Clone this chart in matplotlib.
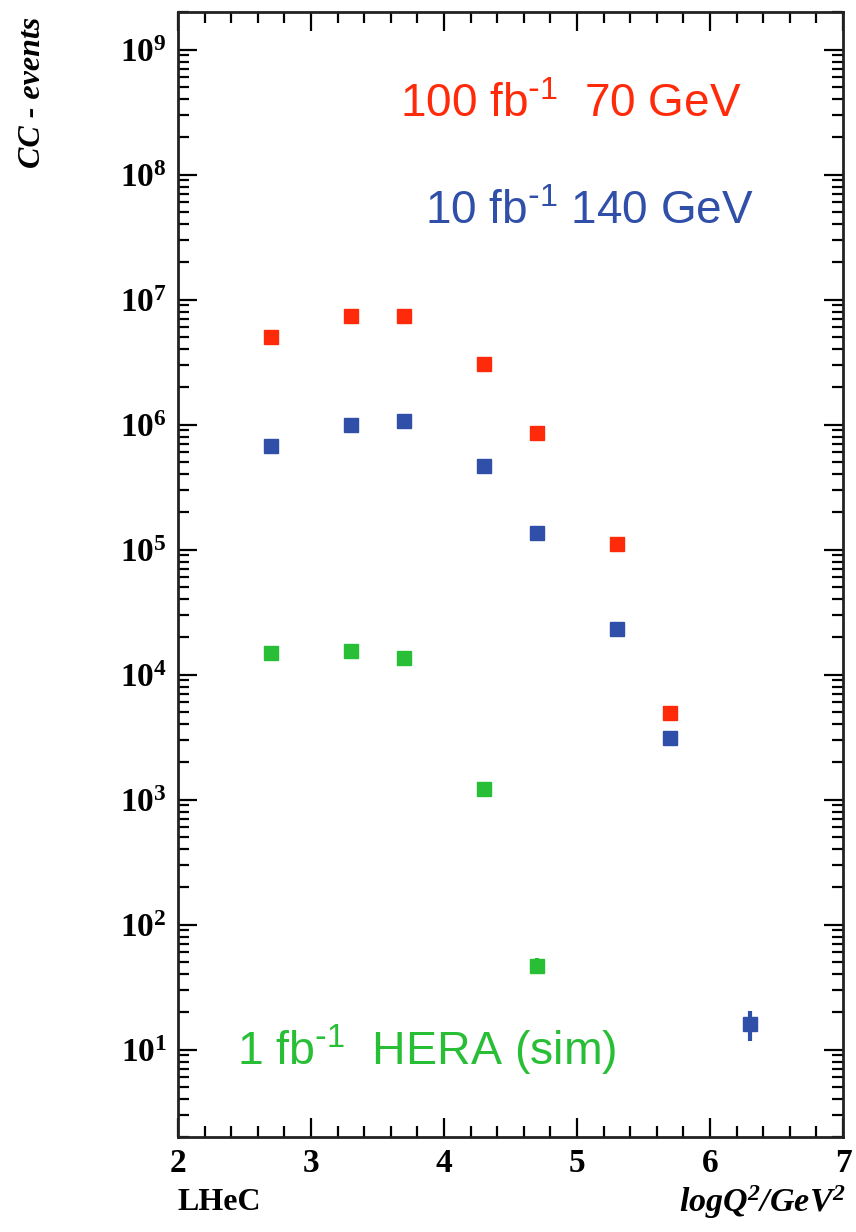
import math
import matplotlib
matplotlib.use("Agg")
import matplotlib.pyplot as plt
from matplotlib.ticker import FixedLocator, LogLocator, FuncFormatter, MultipleLocator

plt.rcParams["mathtext.default"] = "regular"

# log Q^2 bin centres and CC event counts
x_lhec = [2.7, 3.3, 3.7, 4.3, 4.7, 5.3, 5.7]
red_70 = [5.0e6, 7.4e6, 7.4e6, 3.05e6, 8.5e5, 1.1e5, 4.9e3]
x_blue = [2.7, 3.3, 3.7, 4.3, 4.7, 5.3, 5.7, 6.3]
blue_140 = [6.7e5, 1.0e6, 1.06e6, 4.7e5, 1.37e5, 2.33e4, 3.1e3, 16]
blue_err = [0, 0, 0, 0, 0, 0, 0, 4.3]
x_hera = [2.7, 3.3, 3.7, 4.3, 4.7]
green_hera = [1.5e4, 1.55e4, 1.36e4, 1.21e3, 47]
green_err = [0, 0, 0, 0, 7]

RED = "#ff2a0a"
BLUE = "#2f4fa8"
GREEN = "#28bf37"

fig = plt.figure(figsize=(8.56, 12.32), dpi=100)
ax = fig.add_axes([178 / 856, 1 - 1137 / 1232, (843 - 178) / 856, (1137 - 12) / 1232])

ax.errorbar(x_lhec, red_70, fmt="s", color=RED, ms=9.5, mec=RED)
ax.errorbar(x_blue, blue_140, yerr=blue_err, fmt="s", color=BLUE, ms=9.5,
            mec=BLUE, elinewidth=3, capsize=0)
ax.errorbar(x_hera, green_hera, yerr=green_err, fmt="s", color=GREEN, ms=9.5,
            mec=GREEN, elinewidth=3, capsize=0)

ax.set_yscale("log")
ax.set_xlim(2, 7)
ax.set_ylim(2, 2e9)

ax.xaxis.set_major_locator(MultipleLocator(1))
ax.xaxis.set_minor_locator(MultipleLocator(0.2))
ax.yaxis.set_major_locator(FixedLocator([10.0 ** k for k in range(1, 10)]))
ax.yaxis.set_minor_locator(LogLocator(base=10, subs=range(2, 10), numticks=20))
ax.yaxis.set_minor_formatter(FuncFormatter(lambda v, p: ""))
ax.yaxis.set_major_formatter(FuncFormatter(lambda v, p: "10$^{%d}$" % round(math.log10(v))))

ax.tick_params(which="both", direction="in", top=True, right=True, width=1.6)
ax.tick_params(which="major", length=14, pad=8)
ax.tick_params(which="minor", length=8)
for lab in ax.get_xticklabels() + ax.get_yticklabels():
    lab.set_fontfamily("Liberation Serif")
    lab.set_fontweight("bold")
    lab.set_fontsize(24)
for s in ax.spines.values():
    s.set_linewidth(2)
    s.set_color("#222222")

fig.text(0.467, 0.915, r"100 fb$^{\text{-}1}$  70 GeV", color=RED, fontsize=33,
         family="Liberation Sans", va="center", ha="left")
fig.text(0.497, 0.828, r"10 fb$^{\text{-}1}$ 140 GeV", color=BLUE, fontsize=33,
         family="Liberation Sans", va="center", ha="left")
fig.text(0.277, 0.147, r"1 fb$^{\text{-}1}$  HERA (sim)", color=GREEN, fontsize=33.5,
         family="Liberation Sans", va="center", ha="left")

fig.text(0.038, 1 - 17 / 1232, "CC - events", rotation=90, ha="center", va="top",
         family="Liberation Serif", style="italic", weight="bold", fontsize=23)
fig.text(178 / 856, 1 - 1202 / 1232, "LHeC", ha="left", va="center",
         family="Liberation Serif", weight="bold", fontsize=23)
fig.text(845 / 856, 1 - 1202 / 1232, "logQ$^{2}$/GeV$^{2}$", ha="right", va="center",
         family="Liberation Serif", style="italic", weight="bold", fontsize=24.5)

fig.savefig("out.png", dpi=100)
